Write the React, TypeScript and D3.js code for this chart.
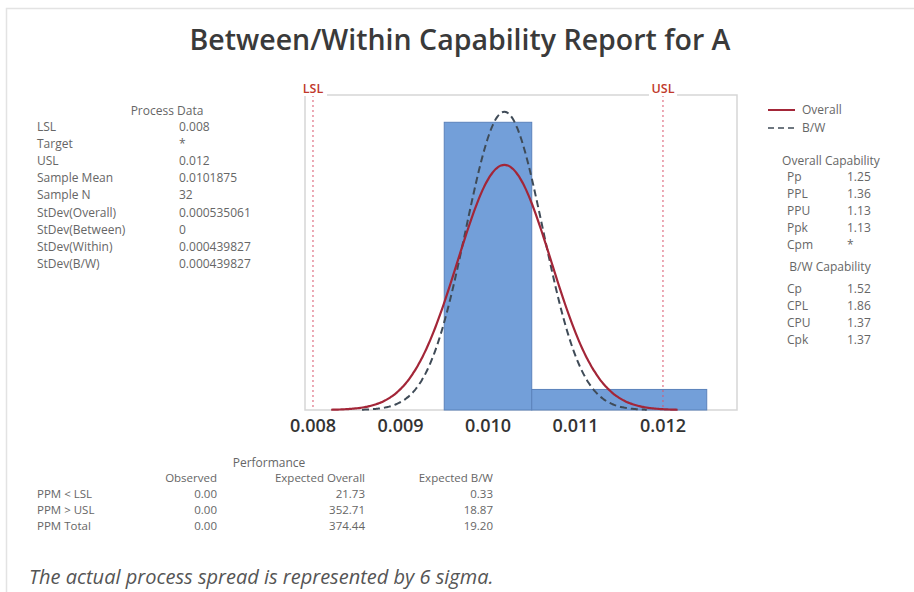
import * as d3 from "d3";

const LSL = 0.008;
const USL = 0.012;
const sampleMean = 0.0101875;
const sdOverall = 0.000535061;
const sdWithin = 0.000439827;

// histogram bins (edges + density)
const binStart = [0.0095, 0.0105];
const binEnd = [0.0105, 0.0125];
const binDensity = [875, 62.5];

const xTicks = [0.008, 0.009, 0.01, 0.011, 0.012];

const processLabels = ["LSL", "Target", "USL", "Sample Mean", "Sample N", "StDev(Overall)", "StDev(Between)", "StDev(Within)", "StDev(B/W)"];
const processValues = ["0.008", "*", "0.012", "0.0101875", "32", "0.000535061", "0", "0.000439827", "0.000439827"];

const overallLabels = ["Pp", "PPL", "PPU", "Ppk", "Cpm"];
const overallValues = ["1.25", "1.36", "1.13", "1.13", "*"];
const bwLabels = ["Cp", "CPL", "CPU", "Cpk"];
const bwValues = ["1.52", "1.86", "1.37", "1.37"];

const perfRows = ["PPM < LSL", "PPM > USL", "PPM Total"];
const perfObserved = ["0.00", "0.00", "0.00"];
const perfOverall = ["21.73", "352.71", "374.44"];
const perfBW = ["0.33", "18.87", "19.20"];

const font = "'Open Sans', 'Noto Sans', sans-serif";
const grey = "#666";
const fs = 12;

const normal = (m: number, s: number) => (x: number) =>
  Math.exp(-0.5 * ((x - m) / s) ** 2) / (s * Math.sqrt(2 * Math.PI));

export default function App() {
  const x = d3.scaleLinear().domain([0.0079086, 0.012846]).range([305, 737]);
  const y = d3.scaleLinear().domain([0, 958]).range([410, 95]);

  const curve = (s: number) => {
    const f = normal(sampleMean, s);
    const pts = d3.range(0, 201).map((i) => sampleMean - 3.7 * s + (i / 200) * 7.4 * s);
    return d3.line<number>().x((v) => x(v)).y((v) => y(f(v))).curve(d3.curveBasis)(pts) || "";
  };

  return (
    <svg width={914} height={592} style={{ position: "absolute", left: 0, top: 0 }} fontFamily={font}>
      <rect width={914} height={592} fill="#fff" />
      <path d="M6.5,592 V8.5 H914" fill="none" stroke="#e3e3e3" strokeWidth={1.5} />

      <text x={460} y={50} textAnchor="middle" fontSize={28.5} fontWeight={600} fill="#3a3a3a">
        Between/Within Capability Report for A
      </text>

      {/* plot frame */}
      <rect x={305} y={95} width={432} height={315} fill="none" stroke="#d6d6d6" strokeWidth={1.5} />

      {binStart.map((b, i) => (
        <rect key={i} x={x(b)} y={y(binDensity[i])} width={x(binEnd[i]) - x(b)} height={y(0) - y(binDensity[i])}
          fill="#739fd9" stroke="#5b82bb" strokeWidth={1} />
      ))}

      {[LSL, USL].map((v, i) => (
        <g key={i}>
          <line x1={x(v)} x2={x(v)} y1={95} y2={410} stroke="#d9536a" strokeWidth={1} strokeDasharray="2,3" />
          <rect x={x(v) - 14} y={80} width={28} height={16} fill="#fff" />
          <text x={x(v)} y={93} textAnchor="middle" fontSize={12.5} fontWeight={600} fill="#c0392b">{i === 0 ? "LSL" : "USL"}</text>
        </g>
      ))}

      <path d={curve(sdWithin)} fill="none" stroke="#3f4b57" strokeWidth={2} strokeDasharray="7,4" />
      <path d={curve(sdOverall)} fill="none" stroke="#a32638" strokeWidth={2.2} />

      {xTicks.map((t) => (
        <text key={t} x={x(t)} y={432} textAnchor="middle" fontSize={18} fontWeight={600} fill="#333">{d3.format(".3f")(t)}</text>
      ))}

      {/* process data */}
      <text x={167} y={115} textAnchor="middle" fontSize={fs} fill={grey}>Process Data</text>
      {processLabels.map((l, i) => (
        <g key={l} fontSize={fs} fill={grey}>
          <text x={37} y={131 + i * 17.1}>{l}</text>
          <text x={179} y={131 + i * 17.1}>{processValues[i]}</text>
        </g>
      ))}

      {/* legend */}
      <line x1={768} x2={795} y1={110} y2={110} stroke="#a32638" strokeWidth={2} />
      <text x={802} y={114} fontSize={fs} fill={grey}>Overall</text>
      <line x1={768} x2={795} y1={128} y2={128} stroke="#3f4b57" strokeWidth={1.5} strokeDasharray="6,4" />
      <text x={802} y={132} fontSize={fs} fill={grey}>B/W</text>

      <text x={831} y={165} textAnchor="middle" fontSize={fs} fill={grey}>Overall Capability</text>
      {overallLabels.map((l, i) => (
        <g key={l} fontSize={fs} fill={grey}>
          <text x={787} y={181 + i * 17}>{l}</text>
          <text x={847} y={181 + i * 17}>{overallValues[i]}</text>
        </g>
      ))}
      <text x={830} y={271} textAnchor="middle" fontSize={fs} fill={grey}>B/W Capability</text>
      {bwLabels.map((l, i) => (
        <g key={l} fontSize={fs} fill={grey}>
          <text x={787} y={293 + i * 17}>{l}</text>
          <text x={847} y={293 + i * 17}>{bwValues[i]}</text>
        </g>
      ))}

      {/* performance */}
      <text x={269} y={467} textAnchor="middle" fontSize={fs} fill={grey}>Performance</text>
      <g fontSize={11.5} fill={grey} textAnchor="end">
        <text x={217} y={482}>Observed</text>
        <text x={365} y={482}>Expected Overall</text>
        <text x={493} y={482}>Expected B/W</text>
      </g>
      {perfRows.map((r, i) => (
        <g key={r} fontSize={11.5} fill={grey}>
          <text x={37} y={498 + i * 16}>{r}</text>
          <text x={217} y={498 + i * 16} textAnchor="end">{perfObserved[i]}</text>
          <text x={365} y={498 + i * 16} textAnchor="end">{perfOverall[i]}</text>
          <text x={493} y={498 + i * 16} textAnchor="end">{perfBW[i]}</text>
        </g>
      ))}

      <text x={29} y={584} fontSize={20} fontStyle="italic" fill="#555">
        The actual process spread is represented by 6 sigma.
      </text>
    </svg>
  );
}
